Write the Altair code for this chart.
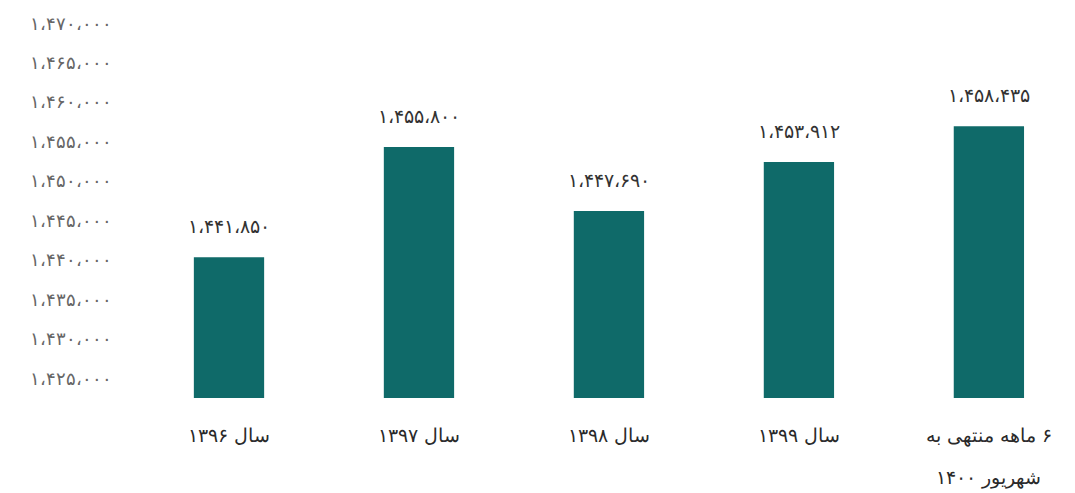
import altair as alt
import pandas as pd

categories = ["سال ۱۳۹۶", "سال ۱۳۹۷", "سال ۱۳۹۸", "سال ۱۳۹۹", "\u200f۶ ماهه منتهی به / شهریور ۱۴۰۰"]
label_lines = [["سال ۱۳۹۶"], ["سال ۱۳۹۷"], ["سال ۱۳۹۸"], ["سال ۱۳۹۹"], ["\u200f۶ ماهه منتهی به", "شهریور ۱۴۰۰"]]
values = [1441850, 1455800, 1447690, 1453912, 1458435]
value_labels = ["۱،۴۴۱،۸۵۰", "۱،۴۵۵،۸۰۰", "۱،۴۴۷،۶۹۰", "۱،۴۵۳،۹۱۲", "۱،۴۵۸،۴۳۵"]

tick_values = [1425000, 1430000, 1435000, 1440000, 1445000, 1450000, 1455000, 1460000, 1465000, 1470000]
tick_labels = ["۱،۴۲۵،۰۰۰", "۱،۴۳۰،۰۰۰", "۱،۴۳۵،۰۰۰", "۱،۴۴۰،۰۰۰", "۱،۴۴۵،۰۰۰",
               "۱،۴۵۰،۰۰۰", "۱،۴۵۵،۰۰۰", "۱،۴۶۰،۰۰۰", "۱،۴۶۵،۰۰۰", "۱،۴۷۰،۰۰۰"]

BASE = 1424000
TOP = 1470000

df = pd.DataFrame({"cat": categories, "value": values, "label": value_labels, "base": [BASE] * len(values)})

# label expressions
y_expr = ""
for v, t in zip(tick_values, tick_labels):
    y_expr += f"datum.value == {v} ? '{t}' : "
y_expr += "''"

x_expr = ""
for c, lines in zip(categories, label_lines):
    if len(lines) > 1:
        arr = "[" + ", ".join(f"'{l}'" for l in lines) + "]"
    else:
        arr = f"'{lines[0]}'"
    x_expr += f"datum.value == '{c}' ? {arr} : "
x_expr += "datum.value"

FONT = "DejaVu Sans"
COLOR = "#0f6a69"

x = alt.X("cat:N", sort=categories, title=None,
          scale=alt.Scale(paddingInner=0.63, paddingOuter=0.289, align=0.627),
          axis=alt.Axis(labelExpr=x_expr, labelAngle=0, labelFontSize=19, labelFont=FONT,
                        labelFontWeight=200,
                        labelColor="#2a2a2a", labelPadding=37, labelLineHeight=42,
                        domain=False, ticks=False, labelBaseline="middle"))
y = alt.Y("value:Q", title=None,
          scale=alt.Scale(domain=[BASE, TOP], zero=False, nice=False),
          axis=alt.Axis(values=tick_values, labelExpr=y_expr, labelFontSize=18, labelFont=FONT,
                        labelFontWeight=200,
                        labelColor="#666666", labelPadding=14, labelOffset=-11,
                        domain=False, ticks=False, grid=False))

bars = alt.Chart(df).mark_bar(color=COLOR).encode(x=x, y=y, y2="base:Q")
text = alt.Chart(df).mark_text(dy=-30, fontSize=19, font=FONT, fontWeight=200,
                               color="#333333", baseline="middle").encode(
    x=alt.X("cat:N", sort=categories), y="value:Q", text="label:N")

chart = (bars + text).properties(
    width=940, height=363,
    padding={"left": 125, "top": 35, "right": 10, "bottom": 95},
    autosize=alt.AutoSizeParams(type="none"),
    background="white",
).configure_view(stroke=None)

chart.save("out.html", embed_options={"renderer": "svg", "actions": False})
